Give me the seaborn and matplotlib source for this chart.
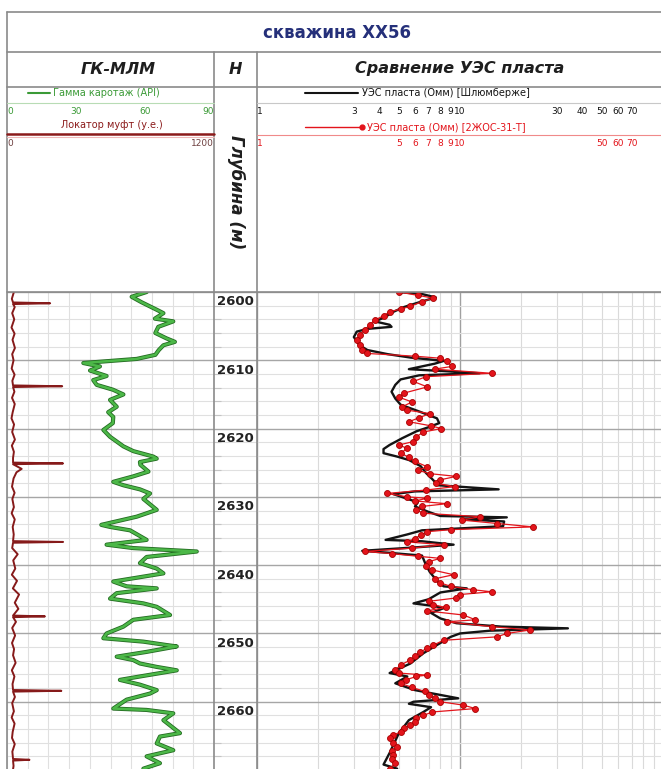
import numpy as np
import pandas as pd
import matplotlib
matplotlib.use("Agg")
import matplotlib.pyplot as plt
import matplotlib.transforms as mtransforms
import matplotlib.patheffects as pe
import seaborn as sns

# ГК (гамма каротаж), API
gk_depth = [2600.0, 2600.7, 2601.5, 2602.6, 2603.1, 2603.9, 2604.3, 2605.1, 2606.0, 2606.8,
            2607.3, 2607.8, 2608.5, 2609.2, 2609.8, 2610.4, 2610.9, 2611.5, 2612.3, 2612.9,
            2613.6, 2614.3, 2615.0, 2615.8, 2616.8, 2617.6, 2618.3, 2619.2, 2620.2, 2621.2,
            2622.6, 2623.3, 2624.1, 2624.4, 2624.9, 2625.3, 2626.3, 2627.0, 2627.8, 2628.3,
            2628.9, 2629.5, 2630.3, 2631.9, 2632.9, 2633.4, 2634.1, 2634.4, 2634.9, 2636.3,
            2637.0, 2637.5, 2638.0, 2638.8, 2639.7, 2640.5, 2641.2, 2642.4, 2643.1, 2643.4,
            2644.1, 2644.9, 2645.6, 2646.1, 2647.3, 2648.0, 2649.0, 2650.0, 2650.7, 2651.2,
            2651.7, 2651.9, 2652.7, 2653.4, 2653.9, 2654.4, 2654.9, 2655.4, 2656.3, 2656.8,
            2657.5, 2658.3, 2658.8, 2659.7, 2661.0, 2661.2, 2661.7, 2662.7, 2664.6, 2665.1,
            2666.1, 2667.1, 2668.0, 2669.0, 2669.8]
gk_api = [60.7, 54.2, 58.5, 65.1, 68.0, 64.3, 72.3, 65.8, 64.5, 69.4,
          73.0, 68.0, 66.0, 64.5, 56.4, 33.2, 40.4, 36.1, 43.3, 37.5,
          39.0, 46.0, 50.6, 44.8, 47.7, 44.0, 46.2, 46.0, 41.9, 44.8,
          50.6, 54.9, 63.6, 65.1, 57.8, 58.0, 61.5, 54.9, 46.2, 50.6,
          57.8, 62.2, 59.3, 65.1, 56.4, 50.0, 41.0, 44.8, 53.5, 60.7,
          43.3, 54.9, 82.5, 60.7, 57.8, 65.1, 68.0, 46.2, 52.0, 65.1,
          47.7, 44.8, 59.3, 65.1, 70.9, 54.9, 50.6, 43.3, 41.9, 59.3,
          69.4, 73.8, 60.7, 47.7, 54.9, 57.8, 65.1, 73.8, 57.8, 49.1,
          57.8, 65.1, 62.2, 52.0, 46.2, 60.7, 72.3, 68.0, 75.2, 66.5,
          65.1, 72.3, 60.7, 66.5, 59.3]

# локатор муфт, у.е.
loc_depth = [2600.0, 2601.0, 2602.2, 2603.1, 2604.0, 2605.2, 2606.1, 2607.0, 2608.2, 2609.1,
             2610.0, 2611.2, 2612.1, 2613.0, 2614.6, 2615.5, 2616.4, 2617.6, 2618.5, 2619.4,
             2620.5, 2621.6, 2622.5, 2623.4, 2624.3, 2625.9, 2626.4, 2627.3, 2628.5, 2629.4,
             2630.3, 2631.5, 2632.4, 2633.3, 2634.4, 2635.5, 2637.5, 2638.4, 2639.3, 2640.5,
             2641.4, 2642.3, 2643.4, 2644.3, 2645.5, 2646.4, 2648.3, 2649.2, 2650.3, 2651.4,
             2652.3, 2653.2, 2654.3, 2655.4, 2656.3, 2657.4, 2659.3, 2660.2, 2661.4, 2662.3,
             2663.2, 2664.4, 2665.3, 2666.2, 2667.3, 2669.4, 2669.9]
loc_val = [40, 28, 45, 30, 42, 26, 44, 32, 46, 30,
           38, 27, 44, 31, 43, 29, 45, 33, 26, 41,
           30, 46, 28, 40, 35, 85, 55, 38, 29, 44,
           31, 40, 27, 45, 33, 39, 30, 62, 36, 48,
           28, 58, 34, 70, 45, 66, 52, 30, 47, 29,
           41, 35, 50, 28, 43, 32, 46, 30, 40, 27,
           44, 33, 29, 45, 31, 38, 35]
spike_depth = [2601.65, 2613.8, 2625.1, 2636.6, 2647.5, 2658.4, 2668.5]
spike_val = [250, 320, 325, 325, 220, 315, 130]

# УЭС пласта [Шлюмберже]
sl_depth = [2600.0, 2600.3, 2600.8, 2601.5, 2602.2, 2602.9, 2603.8, 2604.3, 2604.8, 2605.1,
            2605.4, 2605.8, 2606.6, 2607.8, 2608.5, 2609.1, 2609.6, 2609.9, 2610.1, 2610.5,
            2611.3, 2611.6, 2611.9, 2612.2, 2612.8, 2613.6, 2614.6, 2615.6, 2616.5, 2617.5,
            2618.5, 2619.2, 2619.8, 2620.4, 2621.4, 2622.4, 2623.0, 2623.6, 2624.1, 2624.6,
            2625.5, 2626.5, 2627.4, 2628.3, 2628.9, 2629.2, 2629.6, 2630.2, 2630.8, 2631.4,
            2632.2, 2632.8, 2633.0, 2633.3, 2633.6, 2634.3, 2634.9, 2635.5, 2636.3, 2636.5,
            2637.0, 2637.4, 2637.9, 2638.2, 2638.6, 2640.0, 2641.0, 2642.3, 2643.1, 2643.4,
            2644.0, 2645.0, 2645.6, 2646.0, 2646.3, 2647.0, 2647.8, 2648.5, 2649.0, 2649.25,
            2649.6, 2650.0, 2650.5, 2651.4, 2652.9, 2654.4, 2655.8, 2656.3, 2657.3, 2658.3,
            2659.5, 2660.0, 2660.3, 2660.8, 2661.5, 2662.7, 2664.6, 2667.5, 2669.2, 2669.8]
sl_res = [5.0, 6.5, 7.6, 6.3, 5.3, 4.7, 4.2, 3.8, 4.5, 4.6,
          3.5, 3.1, 3.0, 3.2, 3.5, 4.4, 5.7, 7.2, 8.3, 7.5,
          5.6, 8.5, 12.5, 6.3, 5.1, 4.8, 4.6, 4.8, 5.1, 6.3,
          7.7, 7.9, 7.0, 6.1, 5.2, 4.5, 4.2, 4.2, 4.9, 5.6,
          6.4, 6.8, 7.3, 7.8, 15.5, 6.0, 4.7, 5.4, 6.2, 6.0,
          7.0, 8.0, 17.0, 10.5, 16.5, 16.3, 6.5, 5.5, 4.3, 6.5,
          9.3, 6.0, 3.3, 4.5, 6.5, 6.8, 7.1, 7.7, 8.3, 10.8,
          8.0, 7.0, 5.9, 7.5, 8.3, 7.2, 8.0, 9.6, 16.0, 34.0,
          14.0, 10.0, 9.0, 8.0, 6.6, 5.7, 4.5, 5.5, 4.8, 6.0,
          9.8, 5.9, 5.6, 7.2, 6.6, 5.6, 5.0, 4.5, 4.2, 4.9]

# УЭС пласта [2ЖОС-31-Т]
zh_depth = [2600.0, 2600.5, 2600.9, 2601.4, 2602.1, 2602.5, 2602.9, 2603.5, 2604.1, 2604.8,
            2605.5, 2606.3, 2607.0, 2607.8, 2608.5, 2609.0, 2609.4, 2609.7, 2610.1, 2610.9,
            2611.3, 2611.9, 2612.4, 2613.1, 2613.9, 2614.8, 2615.4, 2616.1, 2616.8, 2617.3,
            2617.8, 2618.4, 2619.0, 2619.6, 2620.0, 2620.5, 2621.2, 2621.9, 2622.4, 2622.9,
            2623.6, 2624.2, 2624.8, 2625.6, 2626.1, 2626.6, 2627.0, 2627.5, 2628.0, 2628.5,
            2629.0, 2629.5, 2630.0, 2630.2, 2630.6, 2631.0, 2631.4, 2631.9, 2632.4, 2632.9,
            2633.4, 2633.9, 2634.4, 2634.8, 2635.1, 2635.6, 2636.1, 2636.6, 2637.0, 2637.5,
            2638.0, 2638.3, 2638.7, 2639.0, 2639.5, 2640.1, 2640.7, 2641.4, 2642.0, 2642.6,
            2643.1, 2643.6, 2643.9, 2644.3, 2644.8, 2645.3, 2645.8, 2646.2, 2646.7, 2647.3,
            2648.0, 2648.3, 2649.0, 2649.5, 2650.0, 2650.5, 2651.0, 2651.7, 2652.2, 2652.7,
            2653.3, 2653.9, 2654.6, 2655.4, 2655.8, 2656.1, 2656.3, 2656.8, 2657.3, 2657.9,
            2658.5, 2659.0, 2659.5, 2660.0, 2660.5, 2661.0, 2661.5, 2662.0, 2662.4, 2662.9,
            2663.4, 2663.9, 2664.4, 2664.9, 2665.3, 2666.0, 2666.6, 2667.2, 2667.8, 2668.4,
            2669.0, 2669.8]
zh_res = [5.0, 6.2, 7.4, 6.5, 5.7, 5.1, 4.5, 4.2, 3.8, 3.6,
          3.4, 3.2, 3.1, 3.2, 3.3, 3.5, 6.0, 8.0, 8.6, 9.1,
          7.5, 14.3, 6.8, 5.9, 6.9, 5.3, 5.0, 5.8, 5.2, 5.5,
          7.1, 6.3, 5.6, 7.2, 8.1, 6.6, 6.1, 5.9, 5.0, 5.5,
          5.1, 5.6, 6.0, 6.9, 6.2, 7.1, 9.6, 8.0, 7.6, 9.4,
          6.8, 4.35, 5.5, 6.9, 6.0, 8.6, 6.5, 6.1, 6.6, 12.6,
          10.2, 15.2, 22.9, 9.0, 6.9, 6.4, 6.0, 5.5, 8.3, 5.8,
          3.4, 4.6, 6.2, 8.0, 7.0, 6.8, 7.3, 9.3, 7.5, 8.0,
          9.0, 11.6, 14.3, 10.0, 9.6, 7.0, 7.4, 8.5, 6.85, 10.4,
          11.9, 8.6, 14.3, 22.1, 17.0, 15.2, 8.3, 7.4, 6.9, 6.35,
          6.0, 5.7, 5.1, 4.8, 5.0, 6.85, 6.1, 5.4, 5.1, 5.8,
          6.7, 7.0, 7.5, 8.0, 10.4, 11.9, 7.3, 6.6, 6.1, 6.0,
          5.7, 5.3, 5.1, 4.7, 4.5, 4.7, 4.9, 4.6, 4.7, 4.6,
          4.8, 4.5]

depth_labels = [2600, 2610, 2620, 2630, 2640, 2650, 2660]
gk_ticks = [0, 30, 60, 90]
loc_ticks = [0, 1200]
sl_ticks = [1, 3, 4, 5, 6, 7, 8, 9, 10, 30, 40, 50, 60, 70]
zh_ticks = [1, 5, 6, 7, 8, 9, 10, 50, 60, 70]

sns.set_style("white")
plt.rcParams['font.family'] = ['DejaVu Sans']

W, H = 661, 769
TOP = 292
fig = plt.figure(figsize=(W / 100, H / 100), dpi=100)


def box(x0, x1):
    return [x0 / W, 0, (x1 - x0) / W, (H - TOP) / H]


ax_gk = fig.add_axes(box(7, 214))
ax_h = fig.add_axes(box(214, 257), sharey=ax_gk)
ax_res = fig.add_axes(box(257, 663), sharey=ax_gk)
ax_loc = ax_gk.twiny()
ax_top = fig.add_axes([0, 0, 1, 1], zorder=10)
ax_top.set_xlim(0, W)
ax_top.set_ylim(H, 0)
ax_top.axis('off')

# --- кривые
gk = pd.DataFrame({'depth': gk_depth, 'api': gk_api})
sns.lineplot(data=gk, x='api', y='depth', orient='y', estimator=None, sort=True,
             color='#4cb848', lw=1.8, ax=ax_gk, zorder=3,
             path_effects=[pe.Stroke(linewidth=3.0, foreground='#246b22'), pe.Normal()])

loc = pd.DataFrame({'depth': loc_depth, 'val': loc_val})
spk = []
for d, v in zip(spike_depth, spike_val):
    spk += [(d - 0.12, 35), (d, v), (d + 0.12, 35)]
loc = pd.concat([loc, pd.DataFrame(spk, columns=['depth', 'val'])]).sort_values('depth')
sns.lineplot(data=loc, x='val', y='depth', orient='y', estimator=None,
             color='#861a1a', lw=1.4, ax=ax_loc, zorder=3)

sl = pd.DataFrame({'depth': sl_depth, 'res': sl_res})
zh = pd.DataFrame({'depth': zh_depth, 'res': zh_res})
sns.lineplot(data=sl, x='res', y='depth', orient='y', estimator=None,
             color='#141414', lw=1.7, ax=ax_res, zorder=3)
sns.lineplot(data=zh, x='res', y='depth', orient='y', estimator=None,
             color='#e3141b', lw=0.9, marker='o', markersize=4.3,
             markeredgecolor='#a80000', markeredgewidth=0.6, ax=ax_res, zorder=4)

# --- оси и сетка
ax_gk.set_xlim(0, 90)
ax_loc.set_xlim(0, 1200)
ax_res.set_xscale('log')
ax_res.set_xlim(1, 100)

for ax in (ax_gk, ax_h, ax_res, ax_loc):
    ax.set_xlabel('')
    ax.set_ylabel('')
    for s in ax.spines.values():
        s.set_visible(False)

for ax in (ax_gk, ax_h, ax_res):
    ax.set_yticks(depth_labels + [2670])
    ax.set_yticks(np.arange(2600, 2671, 2), minor=True)
    ax.grid(which='major', axis='y', color='#a6a6a6', lw=1.0)
    ax.grid(which='minor', axis='y', color='#e0e0e0', lw=0.8)
    ax.tick_params(axis='both', which='both', length=0, labelleft=False,
                   labelbottom=False, labeltop=False)
ax_gk.set_ylim(2669.85, 2600)

ax_gk.set_xticks(np.arange(0, 91, 9))
ax_gk.grid(which='major', axis='x', color='#e0e0e0', lw=0.8)
ax_res.set_xticks([1, 10, 100])
ax_res.set_xticks([2, 3, 4, 5, 6, 7, 8, 9, 20, 30, 40, 50, 60, 70, 80, 90], minor=True)
ax_res.grid(which='major', axis='x', color='#a0a0a0', lw=1.0)
ax_res.grid(which='minor', axis='x', color='#dadada', lw=0.8)
ax_res.xaxis.set_minor_formatter(plt.NullFormatter())
ax_loc.set_xticks([])
ax_loc.tick_params(length=0, labeltop=False)
ax_h.set_xticks([])
ax_h.tick_params(axis='y', which='minor', left=True, length=5, color='#c4c4c4',
                 direction='in', width=0.8)

# глубины
th = mtransforms.blended_transform_factory(ax_h.transAxes, ax_h.transData)
for d in depth_labels:
    ax_h.text(0.07, d + 1.45, str(d), transform=th, ha='left', va='center',
              fontsize=9.5, fontweight='bold', color='#222222')

# --- шапка (таблица)
lc = '#8a8a8a'
for y in (12, 52, 87, TOP):
    ax_top.plot([7, W], [y, y], color=lc, lw=1.2)
ax_top.plot([7, 7], [12, H], color=lc, lw=1.2)
for x in (214, 257):
    ax_top.plot([x, x], [52, H], color=lc, lw=1.2)

ax_top.text(337, 33, 'скважина XX56', ha='center', va='center', fontsize=12,
            fontweight='bold', color='#25307a')
hdr = dict(ha='center', va='center', fontsize=11.5, fontweight='bold', style='italic',
           color='#1e1e1e')
ax_top.text(118, 69, 'ГК-МЛМ', **hdr)
ax_top.text(235, 69, 'H', **hdr)
ax_top.text(460, 69, 'Сравнение УЭС пласта', **hdr)
ax_top.text(236, 192, 'Глубина (м)', rotation=-90, ha='center', va='center',
            fontsize=12, fontweight='bold', style='italic', color='#1e1e1e')

# легенда ГК
green = '#3a9a36'
ax_top.plot([28, 50], [93, 93], color=green, lw=1.5)
ax_top.text(53, 93, 'Гамма каротаж (API)', color=green, fontsize=7, va='center')
ax_top.plot([7, 214], [103, 103], color='#b8dcb5', lw=0.8)
t_gk = mtransforms.blended_transform_factory(ax_gk.transData, ax_top.transData)
for v in gk_ticks:
    ha = 'left' if v == gk_ticks[0] else ('right' if v == gk_ticks[-1] else 'center')
    ax_top.text(v, 111, str(v), transform=t_gk, ha=ha, va='center', fontsize=6.5,
                color=green)

# легенда локатора
dred = '#8b1a1a'
ax_top.text(112, 125, 'Локатор муфт (у.е.)', color=dred, fontsize=7, ha='center',
            va='center')
ax_top.plot([7, 214], [134, 134], color=dred, lw=1.8)
ax_top.plot([7, 214], [136.5, 136.5], color='#f0b8b8', lw=0.8)
t_loc = mtransforms.blended_transform_factory(ax_loc.transData, ax_top.transData)
for v in loc_ticks:
    ha = 'left' if v == loc_ticks[0] else 'right'
    ax_top.text(v, 143, str(v), transform=t_loc, ha=ha, va='center', fontsize=6.5,
                color='#6e4040')

# легенда УЭС
ax_top.plot([305, 358], [93, 93], color='#141414', lw=1.5)
ax_top.text(362, 93, 'УЭС пласта (Омм) [Шлюмберже]', color='#141414', fontsize=7,
            va='center')
ax_top.plot([257, W], [103, 103], color='#c8c8c8', lw=0.8)
t_res = mtransforms.blended_transform_factory(ax_res.transData, ax_top.transData)
for v in sl_ticks:
    ha = 'left' if v == 1 else 'center'
    ax_top.text(v, 111, str(v), transform=t_res, ha=ha, va='center', fontsize=6.5,
                color='#141414')

red = '#e3141b'
ax_top.plot([305, 362], [127, 127], color=red, lw=1.0)
ax_top.plot([362], [127], 'o', color=red, markersize=3.5)
ax_top.text(367, 127, 'УЭС пласта (Омм) [2ЖОС-31-Т]', color=red, fontsize=7,
            va='center')
ax_top.plot([257, W], [135, 135], color='#f08a8a', lw=0.8)
for v in zh_ticks:
    ha = 'left' if v == 1 else 'center'
    ax_top.text(v, 143, str(v), transform=t_res, ha=ha, va='center', fontsize=6.5,
                color=red)

fig.savefig('out.png', dpi=100)
